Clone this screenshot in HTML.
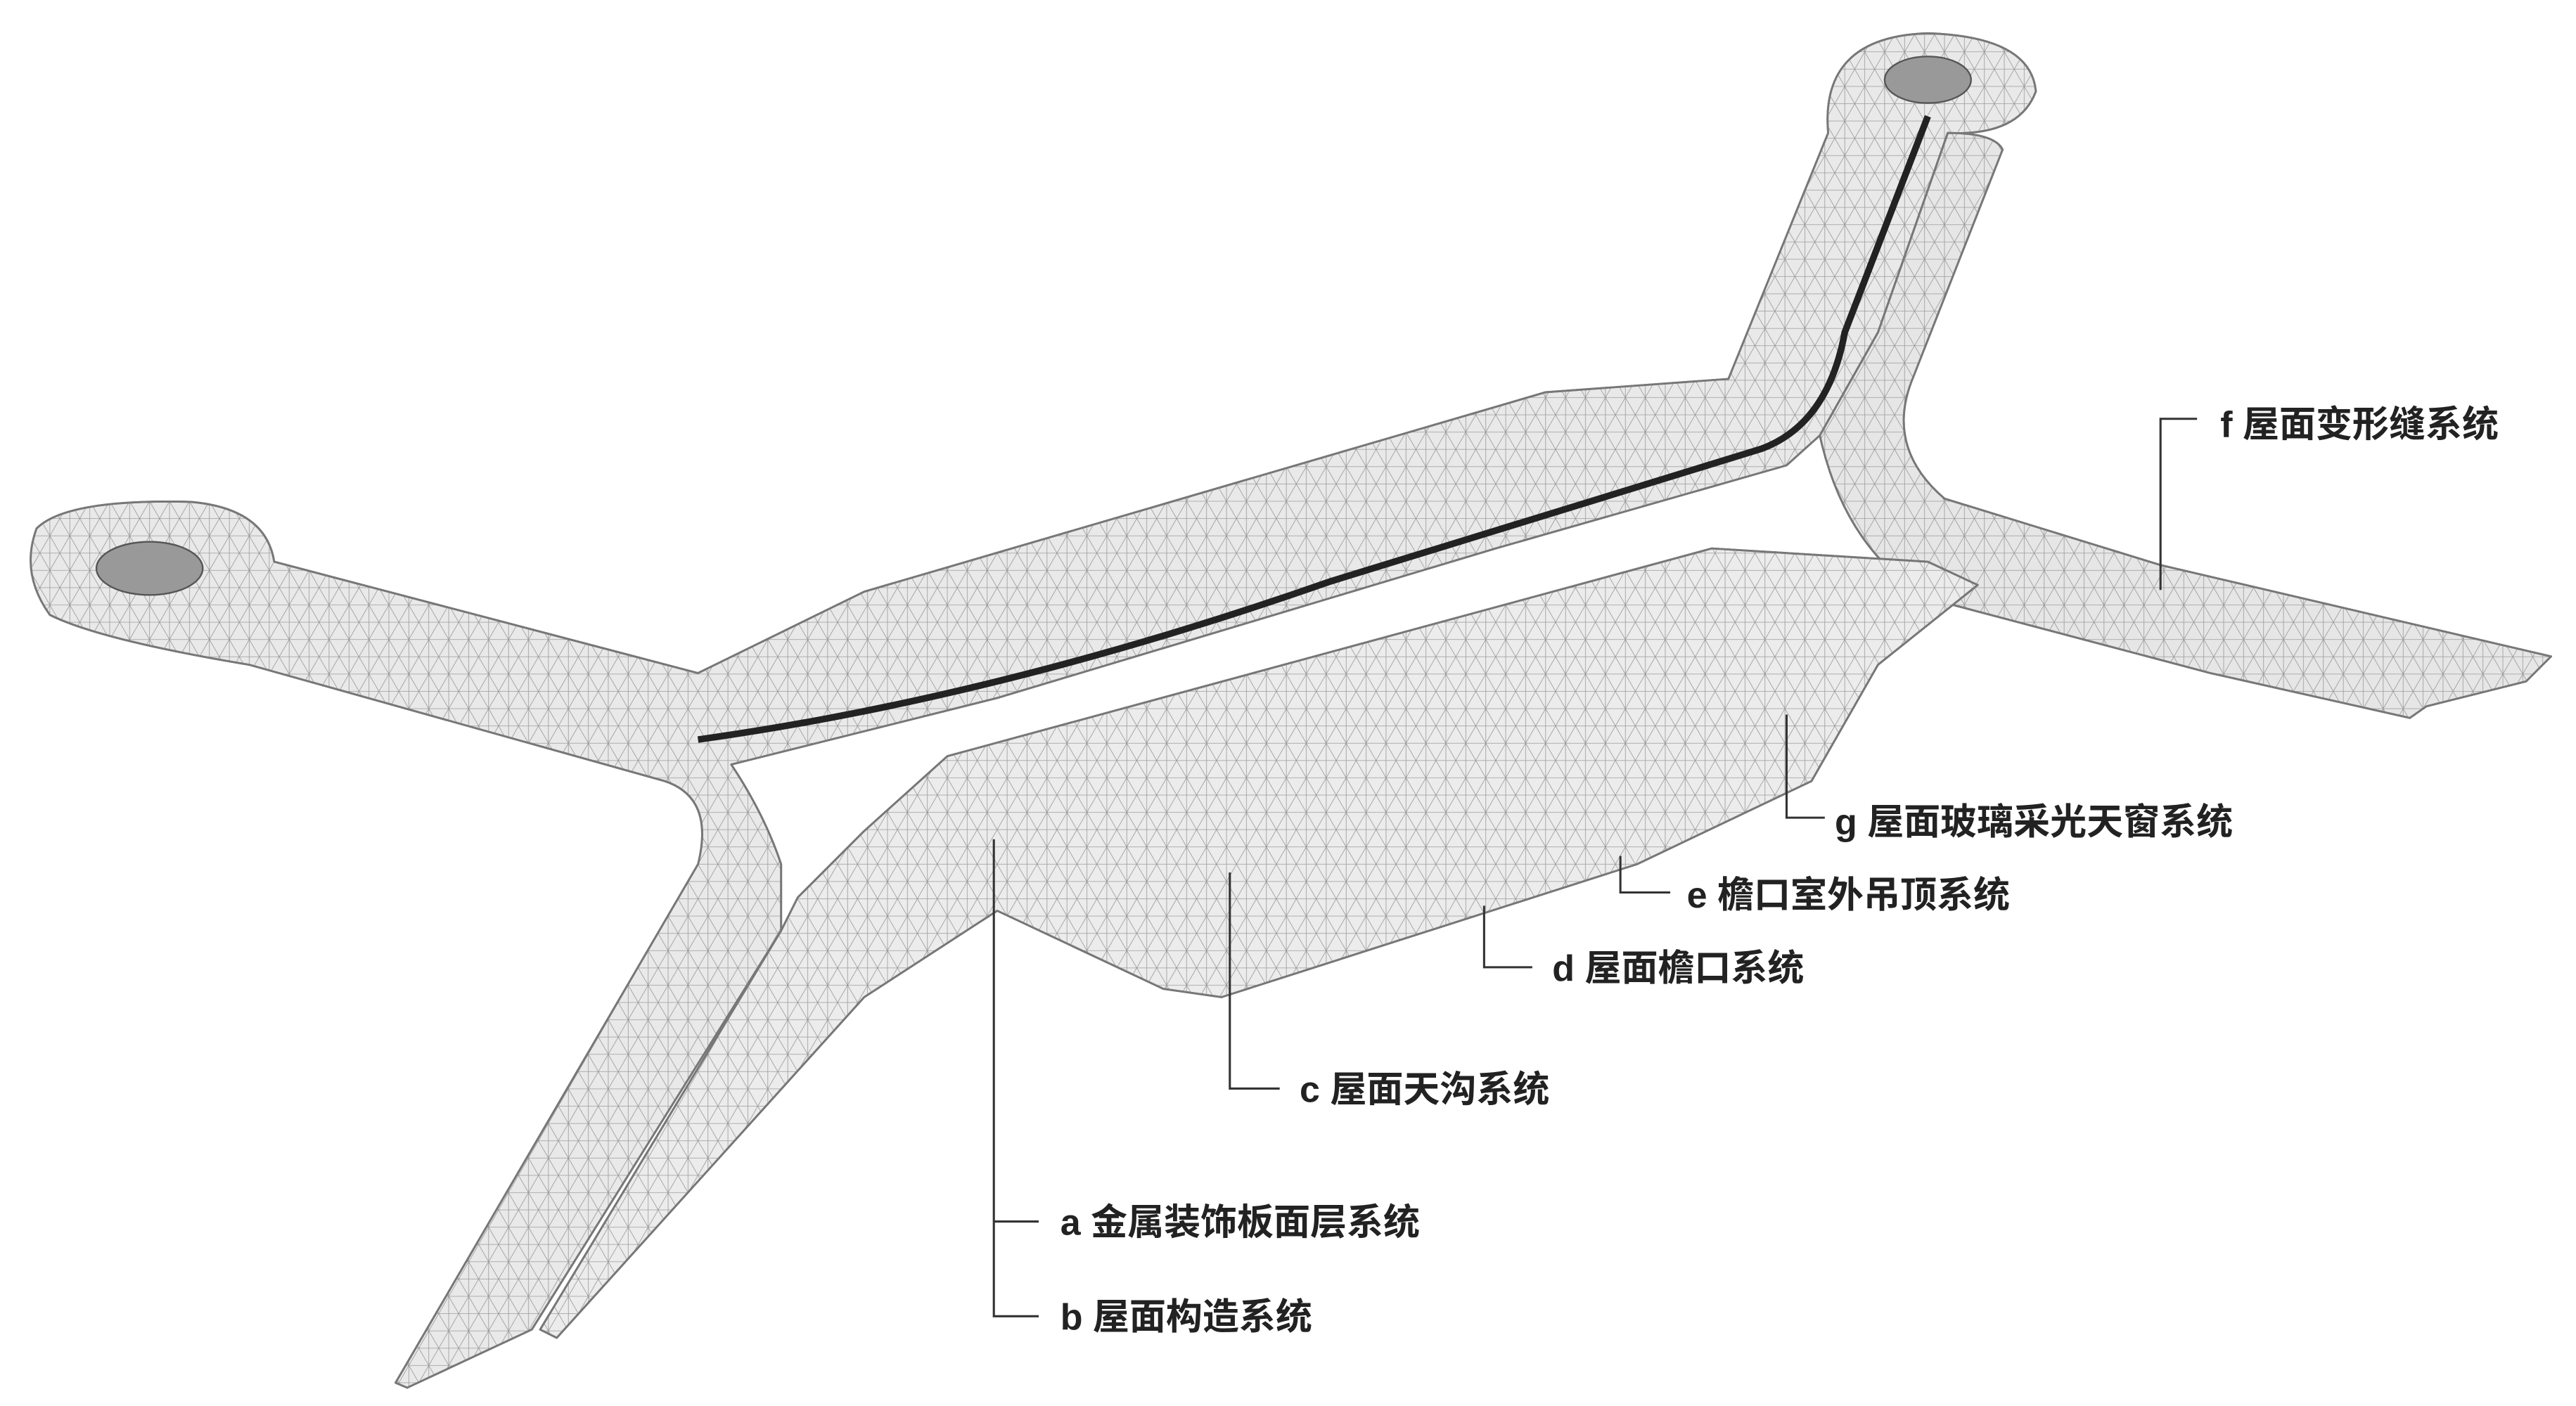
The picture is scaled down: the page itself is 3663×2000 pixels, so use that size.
<!DOCTYPE html>
<html><head><meta charset="utf-8"><style>
html,body{margin:0;padding:0;background:#fff;}
svg{display:block;}
text{font-family:"Liberation Sans","Noto Sans CJK SC",sans-serif;font-size:22px;fill:#222;font-weight:bold;}
</style></head><body>
<svg width="3663" height="2000" viewBox="0 0 1550 846" preserveAspectRatio="none" xmlns="http://www.w3.org/2000/svg">
<defs>
<pattern id="tri" width="24" height="20.8" patternUnits="userSpaceOnUse">
<path d="M0 0 L24 0 M0 10.4 L24 10.4 M0 20.8 L24 20.8 M0 0 L12 20.8 M12 0 L24 20.8 M12 0 L0 20.8 M24 0 L12 20.8 M6 0 L6 20.8 M18 0 L18 20.8" stroke="#9a9a9a" stroke-width="0.35" fill="none"/>
</pattern>
</defs>
<g stroke="#777" stroke-width="1.2" stroke-linejoin="round">
<!-- back deck: left band, upper panel, right upper arm -->
<path d="M22,318 Q40,300 115,302 Q160,306 165,338 L420,405 L520,356 L930,236 L1040,228 L1100,80 Q1095,22 1160,20 Q1222,22 1225,55 Q1215,82 1172,80 L1130,200 L1095,262 L1075,280 L900,330 L600,420 L440,460 Q460,490 470,520 L470,560 L320,800 L245,835 L238,832 L420,520 Q430,480 400,470 L150,400 Q60,385 30,370 Q12,345 22,318 Z" fill="#e9e9e9"/>
<path d="M22,318 Q40,300 115,302 Q160,306 165,338 L420,405 L520,356 L930,236 L1040,228 L1100,80 Q1095,22 1160,20 Q1222,22 1225,55 Q1215,82 1172,80 L1130,200 L1095,262 L1075,280 L900,330 L600,420 L440,460 Q460,490 470,520 L470,560 L320,800 L245,835 L238,832 L420,520 Q430,480 400,470 L150,400 Q60,385 30,370 Q12,345 22,318 Z" fill="url(#tri)"/>
<!-- right band down to right tip -->
<path d="M1130,200 L1172,80 Q1200,80 1205,90 L1150,230 Q1135,270 1170,300 L1300,340 L1535,395 L1520,410 L1460,425 L1450,432 L1330,405 L1160,360 Q1110,330 1095,262 Z" fill="#e6e6e6"/>
<path d="M1130,200 L1172,80 Q1200,80 1205,90 L1150,230 Q1135,270 1170,300 L1300,340 L1535,395 L1520,410 L1460,425 L1450,432 L1330,405 L1160,360 Q1110,330 1095,262 Z" fill="url(#tri)"/>
<!-- front deck -->
<path d="M480,540 L520,500 L570,455 L1030,330 L1160,338 L1190,352 L1130,400 L1090,470 L985,520 L735,600 L700,595 L600,548 L520,600 L335,805 L325,800 L470,560 Z" fill="#ececec"/>
<path d="M480,540 L520,500 L570,455 L1030,330 L1160,338 L1190,352 L1130,400 L1090,470 L985,520 L735,600 L700,595 L600,548 L520,600 L335,805 L325,800 L470,560 Z" fill="url(#tri)"/>
</g>
<!-- dark seam -->
<path d="M420,445 Q600,420 800,350 L1060,270 Q1100,255 1110,200 L1160,70" stroke="#222" stroke-width="4" fill="none"/>
<!-- pads holes -->
<ellipse cx="90" cy="342" rx="32" ry="16" fill="#999" stroke="#555"/>
<ellipse cx="1160" cy="48" rx="26" ry="14" fill="#999" stroke="#555"/>
<!-- leaders -->
<g stroke="#333" stroke-width="1.3" fill="none">
<path d="M1300,355 V252 H1322"/>
<path d="M1075,430 V492 H1098"/>
<path d="M975,515 V537 H1005"/>
<path d="M893,545 V582 H922"/>
<path d="M740,525 V655 H770"/>
<path d="M598,505 V792 H625 M598,735 H625"/>
</g>
<text x="1336" y="263">f 屋面变形缝系统</text>
<text x="1104" y="502">g 屋面玻璃采光天窗系统</text>
<text x="1015" y="546">e 檐口室外吊顶系统</text>
<text x="934" y="590">d 屋面檐口系统</text>
<text x="782" y="663">c 屋面天沟系统</text>
<text x="638" y="743">a 金属装饰板面层系统</text>
<text x="638" y="800">b 屋面构造系统</text>
</svg>
</body></html>
